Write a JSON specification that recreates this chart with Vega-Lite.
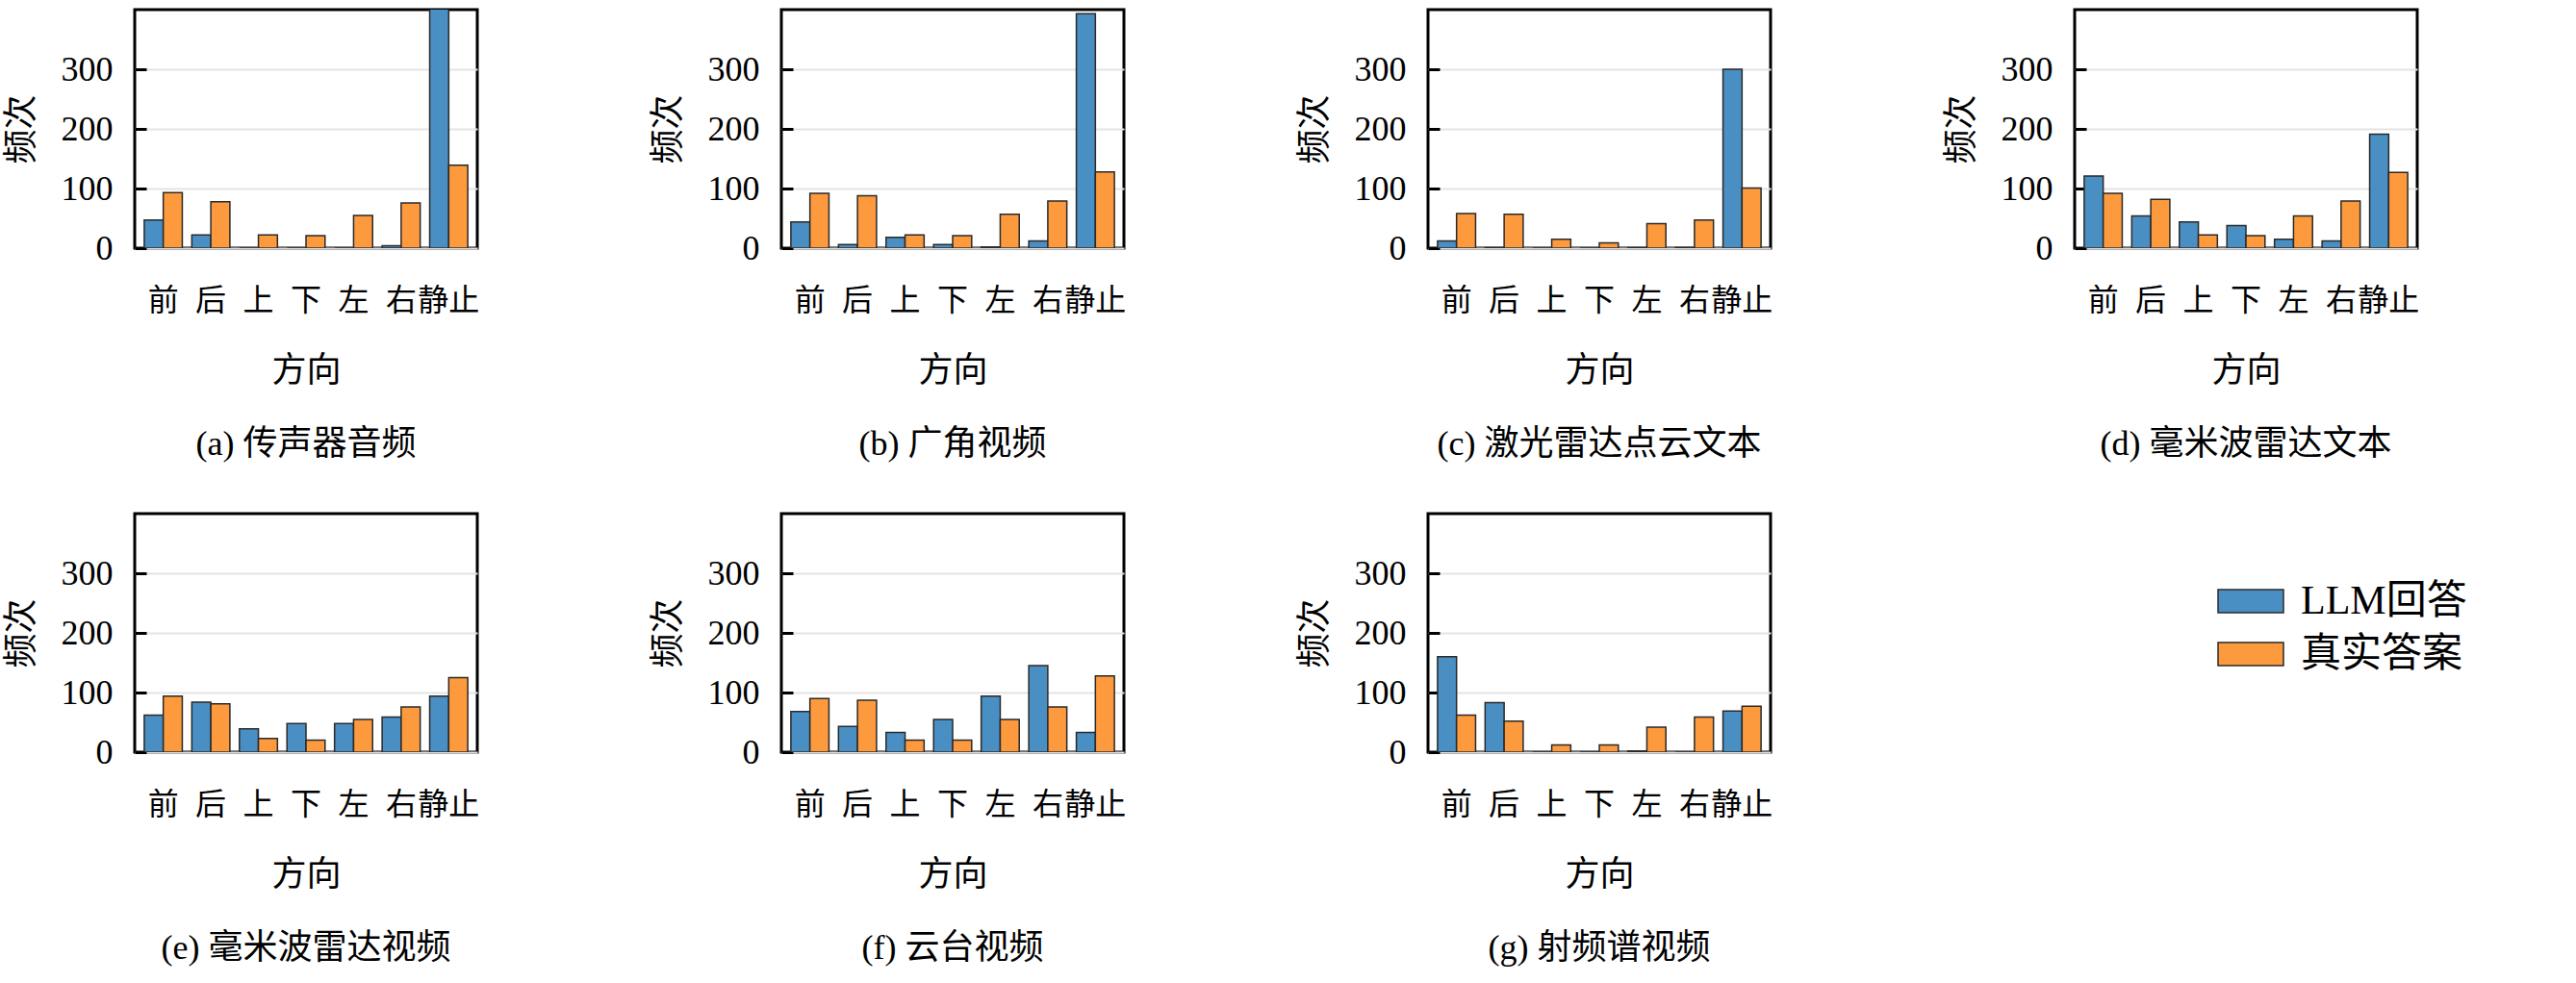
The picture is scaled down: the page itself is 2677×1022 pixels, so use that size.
{
  "$schema": "https://vega.github.io/schema/vega-lite/v6.json",
  "background": "white",
  "padding": {"left": 2, "top": 8, "right": 5, "bottom": 5},
  "bounds": "flush",
  "columns": 4,
  "spacing": {"column": 316, "row": 276},
  "data": {"values": [
    {"p": "a", "d": "前", "s": "LLM回答", "v": 47}, {"p": "a", "d": "前", "s": "真实答案", "v": 93},
    {"p": "a", "d": "后", "s": "LLM回答", "v": 22}, {"p": "a", "d": "后", "s": "真实答案", "v": 78},
    {"p": "a", "d": "上", "s": "LLM回答", "v": 0}, {"p": "a", "d": "上", "s": "真实答案", "v": 22},
    {"p": "a", "d": "下", "s": "LLM回答", "v": 0}, {"p": "a", "d": "下", "s": "真实答案", "v": 21},
    {"p": "a", "d": "左", "s": "LLM回答", "v": 0}, {"p": "a", "d": "左", "s": "真实答案", "v": 55},
    {"p": "a", "d": "右", "s": "LLM回答", "v": 4}, {"p": "a", "d": "右", "s": "真实答案", "v": 76},
    {"p": "a", "d": "静止", "s": "LLM回答", "v": 420}, {"p": "a", "d": "静止", "s": "真实答案", "v": 139},
    {"p": "b", "d": "前", "s": "LLM回答", "v": 44}, {"p": "b", "d": "前", "s": "真实答案", "v": 92},
    {"p": "b", "d": "后", "s": "LLM回答", "v": 6}, {"p": "b", "d": "后", "s": "真实答案", "v": 88},
    {"p": "b", "d": "上", "s": "LLM回答", "v": 18}, {"p": "b", "d": "上", "s": "真实答案", "v": 22},
    {"p": "b", "d": "下", "s": "LLM回答", "v": 6}, {"p": "b", "d": "下", "s": "真实答案", "v": 21},
    {"p": "b", "d": "左", "s": "LLM回答", "v": 2}, {"p": "b", "d": "左", "s": "真实答案", "v": 57},
    {"p": "b", "d": "右", "s": "LLM回答", "v": 12}, {"p": "b", "d": "右", "s": "真实答案", "v": 79},
    {"p": "b", "d": "静止", "s": "LLM回答", "v": 393}, {"p": "b", "d": "静止", "s": "真实答案", "v": 128},
    {"p": "c", "d": "前", "s": "LLM回答", "v": 12}, {"p": "c", "d": "前", "s": "真实答案", "v": 58},
    {"p": "c", "d": "后", "s": "LLM回答", "v": 1}, {"p": "c", "d": "后", "s": "真实答案", "v": 57},
    {"p": "c", "d": "上", "s": "LLM回答", "v": 0}, {"p": "c", "d": "上", "s": "真实答案", "v": 15},
    {"p": "c", "d": "下", "s": "LLM回答", "v": 0}, {"p": "c", "d": "下", "s": "真实答案", "v": 9},
    {"p": "c", "d": "左", "s": "LLM回答", "v": 1}, {"p": "c", "d": "左", "s": "真实答案", "v": 41},
    {"p": "c", "d": "右", "s": "LLM回答", "v": 1}, {"p": "c", "d": "右", "s": "真实答案", "v": 47},
    {"p": "c", "d": "静止", "s": "LLM回答", "v": 300}, {"p": "c", "d": "静止", "s": "真实答案", "v": 101},
    {"p": "d", "d": "前", "s": "LLM回答", "v": 121}, {"p": "d", "d": "前", "s": "真实答案", "v": 92},
    {"p": "d", "d": "后", "s": "LLM回答", "v": 54}, {"p": "d", "d": "后", "s": "真实答案", "v": 82},
    {"p": "d", "d": "上", "s": "LLM回答", "v": 44}, {"p": "d", "d": "上", "s": "真实答案", "v": 22},
    {"p": "d", "d": "下", "s": "LLM回答", "v": 38}, {"p": "d", "d": "下", "s": "真实答案", "v": 21},
    {"p": "d", "d": "左", "s": "LLM回答", "v": 15}, {"p": "d", "d": "左", "s": "真实答案", "v": 54},
    {"p": "d", "d": "右", "s": "LLM回答", "v": 12}, {"p": "d", "d": "右", "s": "真实答案", "v": 79},
    {"p": "d", "d": "静止", "s": "LLM回答", "v": 191}, {"p": "d", "d": "静止", "s": "真实答案", "v": 127},
    {"p": "e", "d": "前", "s": "LLM回答", "v": 62}, {"p": "e", "d": "前", "s": "真实答案", "v": 94},
    {"p": "e", "d": "后", "s": "LLM回答", "v": 84}, {"p": "e", "d": "后", "s": "真实答案", "v": 81},
    {"p": "e", "d": "上", "s": "LLM回答", "v": 39}, {"p": "e", "d": "上", "s": "真实答案", "v": 23},
    {"p": "e", "d": "下", "s": "LLM回答", "v": 48}, {"p": "e", "d": "下", "s": "真实答案", "v": 20},
    {"p": "e", "d": "左", "s": "LLM回答", "v": 48}, {"p": "e", "d": "左", "s": "真实答案", "v": 55},
    {"p": "e", "d": "右", "s": "LLM回答", "v": 59}, {"p": "e", "d": "右", "s": "真实答案", "v": 76},
    {"p": "e", "d": "静止", "s": "LLM回答", "v": 94}, {"p": "e", "d": "静止", "s": "真实答案", "v": 125},
    {"p": "f", "d": "前", "s": "LLM回答", "v": 68}, {"p": "f", "d": "前", "s": "真实答案", "v": 90},
    {"p": "f", "d": "后", "s": "LLM回答", "v": 43}, {"p": "f", "d": "后", "s": "真实答案", "v": 87},
    {"p": "f", "d": "上", "s": "LLM回答", "v": 33}, {"p": "f", "d": "上", "s": "真实答案", "v": 20},
    {"p": "f", "d": "下", "s": "LLM回答", "v": 55}, {"p": "f", "d": "下", "s": "真实答案", "v": 20},
    {"p": "f", "d": "左", "s": "LLM回答", "v": 94}, {"p": "f", "d": "左", "s": "真实答案", "v": 55},
    {"p": "f", "d": "右", "s": "LLM回答", "v": 145}, {"p": "f", "d": "右", "s": "真实答案", "v": 76},
    {"p": "f", "d": "静止", "s": "LLM回答", "v": 33}, {"p": "f", "d": "静止", "s": "真实答案", "v": 128},
    {"p": "g", "d": "前", "s": "LLM回答", "v": 160}, {"p": "g", "d": "前", "s": "真实答案", "v": 62},
    {"p": "g", "d": "后", "s": "LLM回答", "v": 83}, {"p": "g", "d": "后", "s": "真实答案", "v": 52},
    {"p": "g", "d": "上", "s": "LLM回答", "v": 0}, {"p": "g", "d": "上", "s": "真实答案", "v": 12},
    {"p": "g", "d": "下", "s": "LLM回答", "v": 0}, {"p": "g", "d": "下", "s": "真实答案", "v": 12},
    {"p": "g", "d": "左", "s": "LLM回答", "v": 2}, {"p": "g", "d": "左", "s": "真实答案", "v": 42},
    {"p": "g", "d": "右", "s": "LLM回答", "v": 0}, {"p": "g", "d": "右", "s": "真实答案", "v": 59},
    {"p": "g", "d": "静止", "s": "LLM回答", "v": 69}, {"p": "g", "d": "静止", "s": "真实答案", "v": 77}
  ]},
  "concat": [
    {"title": "(a) 传声器音频", "transform": [{"filter": "datum.p == 'a'"}], "mark": {"type": "bar", "clip": true},
     "encoding": {"x": {"field": "d", "type": "nominal", "sort": ["前","后","上","下","左","右","静止"], "axis": {"title": "方向"}}, "xOffset": {"field": "s", "type": "nominal"}, "y": {"field": "v", "type": "quantitative", "scale": {"domain": [0, 400], "nice": false}, "axis": {"title": "频次", "values": [0, 100, 200, 300]}}, "color": {"field": "s", "type": "nominal"}}},
    {"title": "(b) 广角视频", "transform": [{"filter": "datum.p == 'b'"}], "mark": {"type": "bar", "clip": true},
     "encoding": {"x": {"field": "d", "type": "nominal", "sort": ["前","后","上","下","左","右","静止"], "axis": {"title": "方向"}}, "xOffset": {"field": "s", "type": "nominal"}, "y": {"field": "v", "type": "quantitative", "scale": {"domain": [0, 400], "nice": false}, "axis": {"title": "频次", "values": [0, 100, 200, 300]}}, "color": {"field": "s", "type": "nominal"}}},
    {"title": "(c) 激光雷达点云文本", "transform": [{"filter": "datum.p == 'c'"}], "mark": {"type": "bar", "clip": true},
     "encoding": {"x": {"field": "d", "type": "nominal", "sort": ["前","后","上","下","左","右","静止"], "axis": {"title": "方向"}}, "xOffset": {"field": "s", "type": "nominal"}, "y": {"field": "v", "type": "quantitative", "scale": {"domain": [0, 400], "nice": false}, "axis": {"title": "频次", "values": [0, 100, 200, 300]}}, "color": {"field": "s", "type": "nominal"}}},
    {"title": "(d) 毫米波雷达文本", "transform": [{"filter": "datum.p == 'd'"}], "mark": {"type": "bar", "clip": true},
     "encoding": {"x": {"field": "d", "type": "nominal", "sort": ["前","后","上","下","左","右","静止"], "axis": {"title": "方向"}}, "xOffset": {"field": "s", "type": "nominal"}, "y": {"field": "v", "type": "quantitative", "scale": {"domain": [0, 400], "nice": false}, "axis": {"title": "频次", "values": [0, 100, 200, 300]}}, "color": {"field": "s", "type": "nominal"}}},
    {"title": "(e) 毫米波雷达视频", "transform": [{"filter": "datum.p == 'e'"}], "mark": {"type": "bar", "clip": true},
     "encoding": {"x": {"field": "d", "type": "nominal", "sort": ["前","后","上","下","左","右","静止"], "axis": {"title": "方向"}}, "xOffset": {"field": "s", "type": "nominal"}, "y": {"field": "v", "type": "quantitative", "scale": {"domain": [0, 400], "nice": false}, "axis": {"title": "频次", "values": [0, 100, 200, 300]}}, "color": {"field": "s", "type": "nominal"}}},
    {"title": "(f) 云台视频", "transform": [{"filter": "datum.p == 'f'"}], "mark": {"type": "bar", "clip": true},
     "encoding": {"x": {"field": "d", "type": "nominal", "sort": ["前","后","上","下","左","右","静止"], "axis": {"title": "方向"}}, "xOffset": {"field": "s", "type": "nominal"}, "y": {"field": "v", "type": "quantitative", "scale": {"domain": [0, 400], "nice": false}, "axis": {"title": "频次", "values": [0, 100, 200, 300]}}, "color": {"field": "s", "type": "nominal"}}},
    {"title": "(g) 射频谱视频", "transform": [{"filter": "datum.p == 'g'"}], "mark": {"type": "bar", "clip": true},
     "encoding": {"x": {"field": "d", "type": "nominal", "sort": ["前","后","上","下","左","右","静止"], "axis": {"title": "方向"}}, "xOffset": {"field": "s", "type": "nominal"}, "y": {"field": "v", "type": "quantitative", "scale": {"domain": [0, 400], "nice": false}, "axis": {"title": "频次", "values": [0, 100, 200, 300]}}, "color": {"field": "s", "type": "nominal", "legend": {"orient": "none", "legendX": 2178, "legendY": 594}}}}
  ],
  "config": {
    "font": "Liberation Serif, Noto Sans CJK SC",
    "view": {"continuousWidth": 356, "continuousHeight": 248, "discreteWidth": 356, "discreteHeight": 248, "stroke": "black", "strokeWidth": 3},
    "bar": {"stroke": "#2a2a2a", "strokeWidth": 1.5},
    "scale": {"bandPaddingInner": 0.3, "bandPaddingOuter": 0.35, "offsetBandPaddingInner": 0, "offsetBandPaddingOuter": 0},
    "range": {"category": ["#4a8fc3", "#fe9a3e"]},
    "title": {"orient": "bottom", "fontSize": 36, "fontWeight": "normal", "color": "black", "offset": 42, "anchor": "middle"},
    "axisX": {"ticks": false, "domain": false, "labelAngle": 0, "labelFontSize": 32, "labelColor": "black", "labelPadding": 39, "titleFontSize": 36, "titleFontWeight": "normal", "titleColor": "black", "titlePadding": 40, "grid": false},
    "axisY": {"domain": false, "tickSize": -12, "tickWidth": 3, "tickColor": "black", "labelFontSize": 36, "labelColor": "black", "labelPadding": 35, "titleFontSize": 36, "titleFontWeight": "normal", "titleColor": "black", "titlePadding": 22, "grid": true, "gridColor": "#e4e4e4", "gridWidth": 2},
    "legend": {"title": null, "labelFontSize": 42, "labelColor": "black", "labelLimit": 0, "symbolType": "M-2,-0.706H2V0.706H-2Z", "symbolSize": 1156, "symbolStrokeWidth": 0, "symbolOpacity": 1, "rowPadding": 13, "labelOffset": 31, "padding": 0, "offset": 0}
  }
}
